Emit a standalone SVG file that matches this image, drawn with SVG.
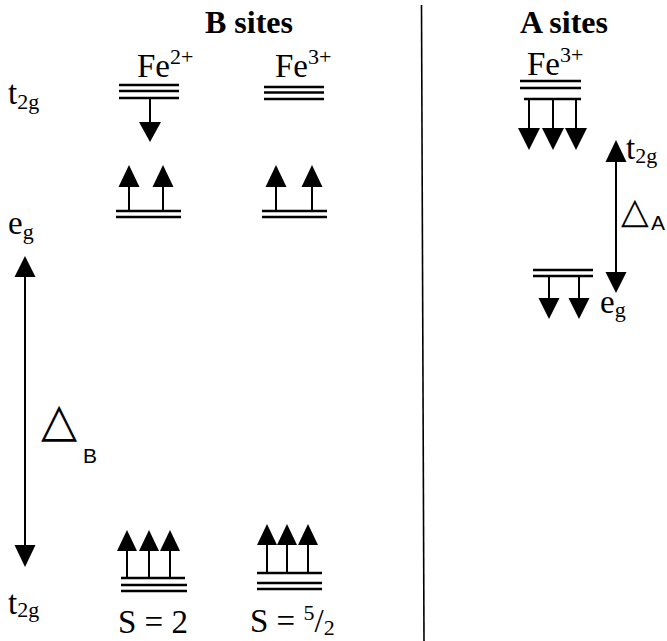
<svg xmlns="http://www.w3.org/2000/svg" width="667" height="641" viewBox="0 0 667 641">
<style>
text{font-family:"Liberation Serif","Times New Roman",serif;fill:#000}
.h{font-size:32px;font-weight:bold}
.t{font-size:33px}
.sub{font-size:22px}
.sup{font-size:22px}
.lv{stroke:#000;stroke-width:2.5;fill:none}
.sh{stroke:#000;stroke-width:2;fill:none}
.hd{fill:#000}
.dl{font-family:"DejaVu Sans",sans-serif}
.sl{font-family:"Liberation Sans",Arial,sans-serif;font-size:21px}
</style>
<g id="headers">
<text class="h" x="205" y="33">B sites</text>
<text class="h" x="520" y="33">A sites</text>
</g>
<line id="divider" x1="421.5" y1="5" x2="424" y2="641" stroke="#000" stroke-width="1.6"/>
<g id="B-labels">
<text class="t" x="8" y="104">t<tspan class="sub" dy="5">2g</tspan></text>
<text class="t" x="8" y="234">e<tspan class="sub" dy="5">g</tspan></text>
<text class="t" x="8" y="614">t<tspan class="sub" dy="3">2g</tspan></text>
</g>
<g id="deltaB">
<text class="dl" x="41" y="436" font-size="47">△</text>
<text class="sl" x="83" y="463">B</text>
</g>
<g id="B-Fe2">
<text class="t" x="137" y="77">Fe<tspan class="sup" dy="-13">2+</tspan></text>
<line class="lv" x1="119" y1="85" x2="179" y2="85"/>
<line class="lv" x1="119" y1="91" x2="179" y2="91"/>
<line class="lv" x1="119" y1="98" x2="179" y2="98"/>
<line class="lv" x1="116" y1="211" x2="181" y2="211"/>
<line class="lv" x1="116" y1="217" x2="181" y2="217"/>
<line class="lv" x1="121" y1="578" x2="185" y2="578"/>
<line class="lv" x1="121" y1="585" x2="187" y2="585"/>
<line class="lv" x1="121" y1="591" x2="187" y2="591"/>
<text class="t" x="118" y="633">S = 2</text>
</g>
<g id="B-Fe3">
<text class="t" x="275" y="77">Fe<tspan class="sup" dy="-13">3+</tspan></text>
<line class="lv" x1="264" y1="87" x2="324" y2="87"/>
<line class="lv" x1="264" y1="92.5" x2="324" y2="92.5"/>
<line class="lv" x1="264" y1="99" x2="324" y2="99"/>
<line class="lv" x1="262" y1="211" x2="327" y2="211"/>
<line class="lv" x1="262" y1="217" x2="327" y2="217"/>
<line class="lv" x1="257" y1="573" x2="322" y2="573"/>
<line class="lv" x1="257" y1="583" x2="322" y2="583"/>
<line class="lv" x1="257" y1="589" x2="322" y2="589"/>
<text class="t" x="250" y="632">S = <tspan class="sup" dy="-12">5</tspan><tspan dy="12">/</tspan><tspan class="sub" dy="3">2</tspan></text>
</g>
<g id="A-Fe3">
<text class="t" x="527" y="75">Fe<tspan class="sup" dy="-13">3+</tspan></text>
<line class="lv" x1="520" y1="81" x2="581" y2="81"/>
<line class="lv" x1="520" y1="88" x2="581" y2="88"/>
<line class="lv" x1="524" y1="99" x2="581" y2="99"/>
<line class="lv" x1="533" y1="270" x2="593" y2="270"/>
<line class="lv" x1="533" y1="276" x2="593" y2="276"/>
<text class="t" x="626" y="159">t<tspan class="sub" dy="4">2g</tspan></text>
<text class="t" x="600" y="313">e<tspan class="sub" dy="4">g</tspan></text>
<text class="dl" x="621" y="223" font-size="36">△</text>
<text class="sl" x="651" y="230">A</text>
</g>
<g id="connectors">
<line class="sh" x1="150" y1="98" x2="150" y2="122"/>
<polygon class="hd" points="139,122 161,122 150,142"/>
<line class="sh" x1="129" y1="211" x2="129" y2="186"/>
<polygon class="hd" points="118.5,187 139.5,187 129,165"/>
<line class="sh" x1="163" y1="211" x2="163" y2="186"/>
<polygon class="hd" points="152.5,187 173.5,187 163,165"/>
<line class="sh" x1="276" y1="211" x2="276" y2="186"/>
<polygon class="hd" points="265.5,187 286.5,187 276,165"/>
<line class="sh" x1="312" y1="211" x2="312" y2="186"/>
<polygon class="hd" points="301.5,187 322.5,187 312,165"/>
<line class="sh" x1="127" y1="578" x2="127" y2="550"/>
<polygon class="hd" points="117,551 137,551 127,530"/>
<line class="sh" x1="149" y1="578" x2="149" y2="550"/>
<polygon class="hd" points="139,551 159,551 149,530"/>
<line class="sh" x1="170" y1="578" x2="170" y2="550"/>
<polygon class="hd" points="160,551 180,551 170,530"/>
<line class="sh" x1="267" y1="573" x2="267" y2="544"/>
<polygon class="hd" points="257,545 277,545 267,524"/>
<line class="sh" x1="287" y1="573" x2="287" y2="544"/>
<polygon class="hd" points="277,545 297,545 287,524"/>
<line class="sh" x1="308" y1="573" x2="308" y2="544"/>
<polygon class="hd" points="298,545 318,545 308,524"/>
<line class="sh" x1="25" y1="276" x2="25" y2="546"/>
<polygon class="hd" points="14.5,277 35.5,277 25,256"/>
<polygon class="hd" points="14.5,545 35.5,545 25,567"/>
<line class="sh" x1="529" y1="99" x2="529" y2="129"/>
<polygon class="hd" points="518,128 540,128 529,150"/>
<line class="sh" x1="553" y1="99" x2="553" y2="129"/>
<polygon class="hd" points="542,128 564,128 553,150"/>
<line class="sh" x1="576" y1="99" x2="576" y2="129"/>
<polygon class="hd" points="565,128 587,128 576,150"/>
<line class="sh" x1="549" y1="276" x2="549" y2="299"/>
<polygon class="hd" points="538.5,298 559.5,298 549,319"/>
<line class="sh" x1="579" y1="276" x2="579" y2="299"/>
<polygon class="hd" points="568.5,298 589.5,298 579,319"/>
<line class="sh" x1="616" y1="161" x2="616" y2="273"/>
<polygon class="hd" points="605.5,162 626.5,162 616,140"/>
<polygon class="hd" points="605.5,272 626.5,272 616,293"/>
</g>
</svg>
